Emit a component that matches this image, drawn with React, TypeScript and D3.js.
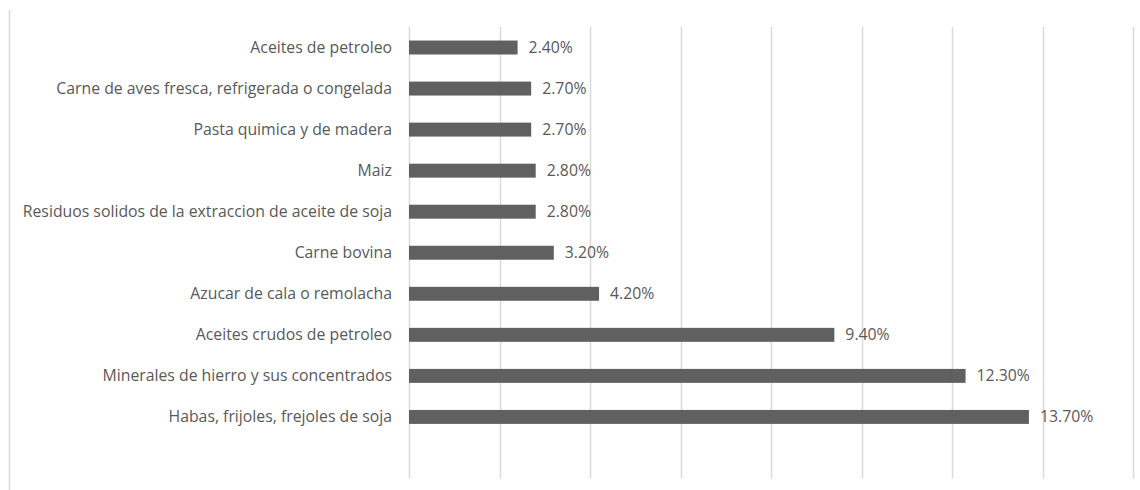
import React from "react";
import * as d3 from "d3";

const categories = [
  "Aceites de petroleo",
  "Carne de aves fresca, refrigerada o congelada",
  "Pasta quimica y de madera",
  "Maiz",
  "Residuos solidos de la extraccion de aceite de soja",
  "Carne bovina",
  "Azucar de cala o remolacha",
  "Aceites crudos de petroleo",
  "Minerales de hierro y sus concentrados",
  "Habas, frijoles, frejoles de soja",
  "",
];
const values = [2.4, 2.7, 2.7, 2.8, 2.8, 3.2, 4.2, 9.4, 12.3, 13.7];
const ticks = [0, 2, 4, 6, 8, 10, 12, 14, 16];

const W = 1140;
const H = 490;
const left = 409;
const right = 1133;
const top = 27;
const bottom = 478.5;
const FONT = "'Open Sans', sans-serif";
const FS = 15.8;

export default function App() {
  const x = d3.scaleLinear().domain([0, 16]).range([left, right]);
  const y = d3
    .scaleBand<string>()
    .domain(categories.map((c, i) => String(i)))
    .range([top, bottom])
    .paddingInner(0.66)
    .paddingOuter(0.33);
  const bh = y.bandwidth();
  return (
    <svg
      width={W}
      height={H}
      style={{ position: "absolute", left: 0, top: 0, background: "#fff" }}
    >
      <line x1={9.5} x2={9.5} y1={10} y2={H} stroke="#d9d9d9" strokeWidth={1.5} />
      {ticks.map((t) => (
        <line
          key={t}
          x1={Math.round(x(t)) + 0.5}
          x2={Math.round(x(t)) + 0.5}
          y1={top}
          y2={bottom}
          stroke="#d9d9d9"
          strokeWidth={1.5}
        />
      ))}
      {values.map((v, i) => {
        const yc = (y(String(i)) as number) + bh / 2;
        return (
          <g key={i}>
            <rect x={x(0)} y={yc - bh / 2} width={x(v) - x(0)} height={bh} fill="#606060" />
            <text
              x={x(v) + 11}
              y={yc}
              dy="0.35em"
              fontFamily={FONT}
              fontSize={FS}
              fill="#595959"
            >
              {v.toFixed(2) + "%"}
            </text>
          </g>
        );
      })}
      {categories.map((c, i) => {
        const yc = (y(String(i)) as number) + bh / 2;
        return (
          <text
            key={i}
            x={392}
            y={yc}
            dy="0.35em"
            textAnchor="end"
            fontFamily={FONT}
            fontSize={FS}
            fill="#595959"
          >
            {c}
          </text>
        );
      })}
    </svg>
  );
}
